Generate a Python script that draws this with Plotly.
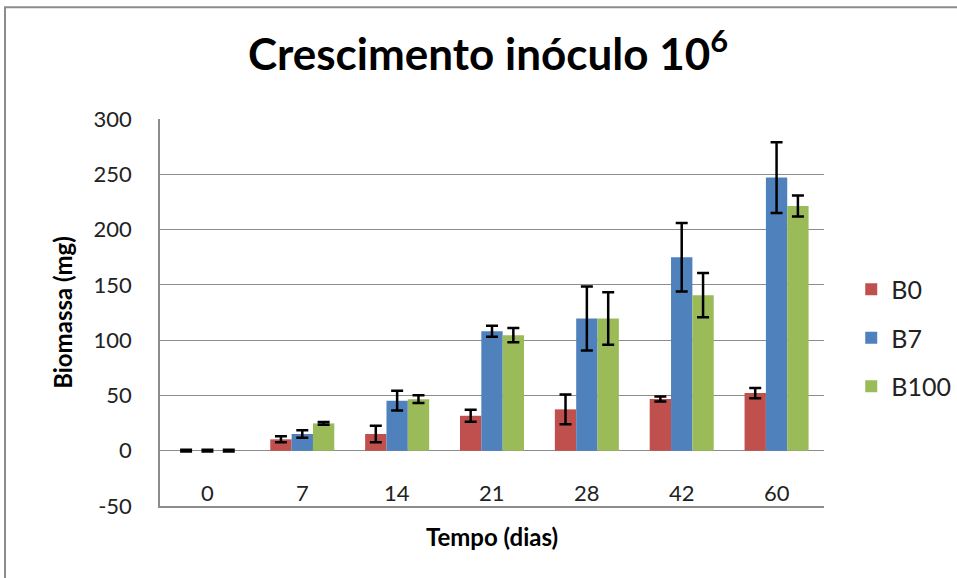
import plotly.graph_objects as go

categories = ["0", "7", "14", "21", "28", "42", "60"]
series_names = ["B0", "B7", "B100"]
b0 = [0, 10.3, 15.1, 31.6, 37.4, 46.7, 52.1]
b0_err = [0.8, 2.7, 7.5, 5.4, 13.4, 2.3, 4.7]
b7 = [0, 15.1, 45.3, 108.1, 119.6, 175, 247]
b7_err = [0.8, 3.3, 9, 5, 29, 31, 32]
b100 = [0, 24.7, 46.6, 104.5, 119.6, 140.7, 221.4]
b100_err = [0.8, 1.2, 3.5, 6.5, 23.7, 20, 9.5]
colors = ["#C0504D", "#4F81BD", "#9BBB59"]
y_ticks = [-50, 0, 50, 100, 150, 200, 250, 300]
y_tick_labels = ["-50", "0", "50", "100", "150", "200", "250", "300"]

FONT = "Lato"
fig = go.Figure()
for name, vals, errs, col in zip(series_names, [b0, b7, b100], [b0_err, b7_err, b100_err], colors):
    fig.add_trace(go.Bar(
        x=categories, y=vals, name=name, legendgroup=name,
        marker=dict(color=col, line=dict(width=0)),
        error_y=dict(type="data", array=errs, visible=True, color="black", thickness=2.5, width=6),
    ))

for i, c in enumerate(categories):
    fig.add_annotation(x=i, y=-38, xref="x", yref="y", text=c, showarrow=False,
                       font=dict(family=FONT, size=22, color="#222"))

fig.add_shape(type="rect", xref="paper", yref="paper", x0=-0.2334, x1=1.3, y0=-0.3, y1=1.289,
              line=dict(color="#8c8c8c", width=2), layer="below")

fig.update_layout(
    width=957, height=578,
    margin=dict(l=160, r=133, t=119, b=72, autoexpand=False),
    paper_bgcolor="white", plot_bgcolor="white",
    barmode="group", bargap=0.325, bargroupgap=0,
    title=dict(text="<b>Crescimento inóculo 10<sup>6</sup></b>", x=0.51, xanchor="center",
               y=0.905, yanchor="middle", font=dict(family=FONT, size=44, color="black")),
    legend=dict(x=1.041, y=0.434, xanchor="left", yanchor="middle", traceorder="grouped",
                tracegroupgap=13, font=dict(family=FONT, size=25, color="#222"),
                itemwidth=30, bgcolor="rgba(0,0,0,0)"),
    font=dict(family=FONT, color="#222"),
)
fig.update_xaxes(type="category", range=[-0.5, 6.5], showticklabels=False, showline=True,
                 linecolor="#8c8c8c", linewidth=1.5,
                 showgrid=False, ticks="", automargin=False,
                 title=dict(text="<b>Tempo (dias)</b>", font=dict(family=FONT, size=24, color="black"), standoff=22))
fig.update_yaxes(range=[-50, 300], tickvals=y_ticks, ticktext=y_tick_labels, showline=True,
                 linecolor="#8c8c8c", linewidth=1.5,
                 showgrid=True, gridcolor="#8c8c8c", gridwidth=1, zeroline=True, zerolinecolor="#8c8c8c",
                 zerolinewidth=1, ticks="", ticklabelstandoff=22, automargin=False,
                 tickfont=dict(family=FONT, size=22, color="#222"),
                 title=dict(text="<b>Biomassa (mg)</b>", font=dict(family=FONT, size=24, color="black"), standoff=14))

fig.write_html("out.html", config={"displayModeBar": False},
               post_script="document.body.style.margin='0';")
